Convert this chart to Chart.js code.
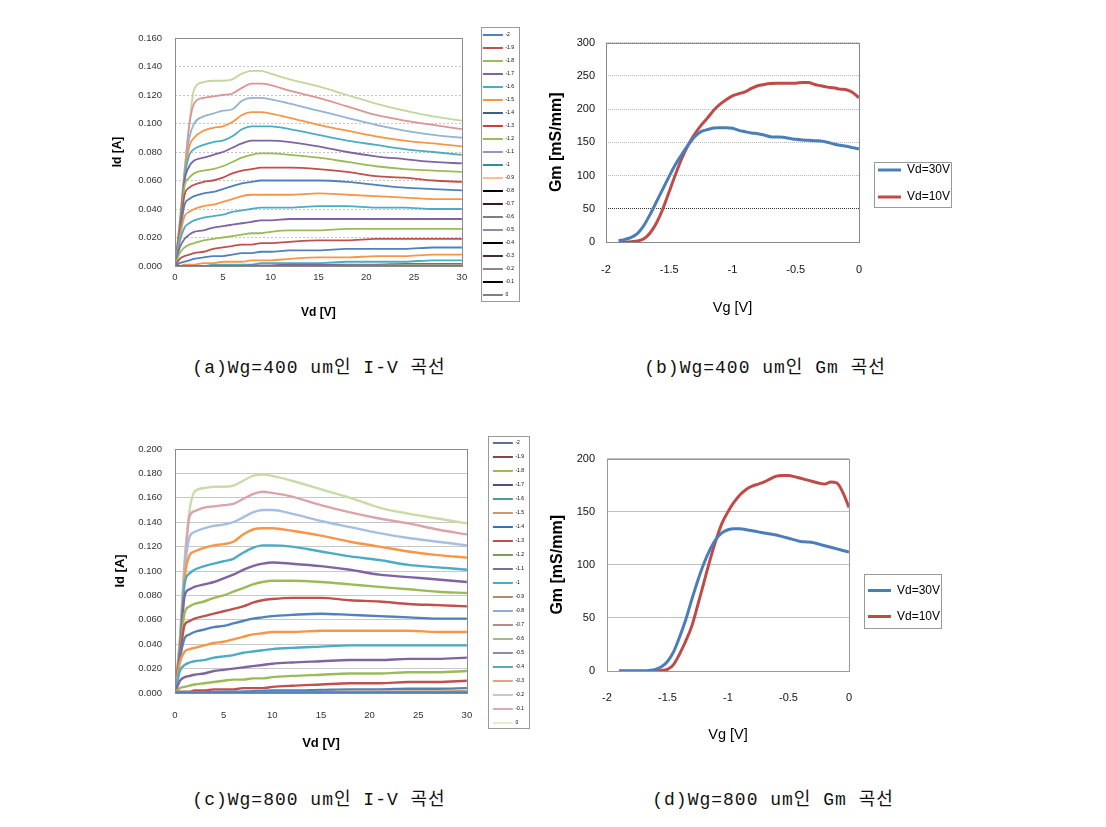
<!DOCTYPE html>
<html><head><meta charset="utf-8">
<script src="https://cdn.jsdelivr.net/npm/chart.js@4.4.1/dist/chart.umd.min.js"></script>
<style>
html,body{margin:0;padding:0;background:#fff;}
body{width:1106px;height:827px;position:relative;overflow:hidden;}
canvas{position:absolute;}
.cap{position:absolute;font-family:"Liberation Mono","Noto Sans CJK KR",monospace;font-size:18px;color:#111;white-space:nowrap;transform:translate(-50%,-50%);letter-spacing:1px;}
</style></head><body>
<canvas id="ca"></canvas><canvas id="cb"></canvas><canvas id="cc"></canvas><canvas id="cd"></canvas>
<div class="cap" style="left:319px;top:365px">(a)Wg=400 um인 I-V 곡선</div>
<div class="cap" style="left:765px;top:365px">(b)Wg=400 um인 Gm 곡선</div>
<div class="cap" style="left:319px;top:797px">(c)Wg=800 um인 I-V 곡선</div>
<div class="cap" style="left:773px;top:797px">(d)Wg=800 um인 Gm 곡선</div>
<script>
// ---------------- data ----------------
const vgLabels = ['-2','-1.9','-1.8','-1.7','-1.6','-1.5','-1.4','-1.3','-1.2','-1.1','-1','-0.9','-0.8','-0.7','-0.6','-0.5','-0.4','-0.3','-0.2','-0.1','0'];
const vd = [0, 0.5, 1, 1.5, 2, 3, 4, 5, 6, 7, 8, 9, 10, 12, 15, 18, 21, 24, 27, 30];

// (a) Wg=400um, Id [A] vs Vd for each Vg
const idA_n20 = [0,0,0,0,0,0,0,0,0,0,0,0,0,0,0,0,0,0,0,0];
const idA_n19 = [0,0,0,0,0,0,0,0,0,0,0,0,0,0,0,0,0,0,0,0];
const idA_n18 = [0,0,0,0,0,0,0,0,0,0,0,0,0,0,0,0.0003,0.0003,0.0005,0.0005,0.0005];
const idA_n17 = [0,0,0,0,0,0,0,0,0,0,0.0005,0.0005,0.0005,0.001,0.001,0.001,0.001,0.0015,0.0015,0.0015];
const idA_n16 = [0,0,0,0,0,0,0.001,0.001,0.001,0.001,0.001,0.002,0.002,0.002,0.002,0.003,0.003,0.003,0.004,0.004];
const idA_n15 = [0,0,0.001,0.001,0.001,0.002,0.002,0.003,0.003,0.003,0.004,0.004,0.004,0.005,0.006,0.006,0.007,0.007,0.008,0.008];
const idA_n14 = [0,0.002,0.003,0.004,0.005,0.006,0.007,0.007,0.008,0.009,0.009,0.010,0.010,0.011,0.011,0.012,0.012,0.012,0.013,0.013];
const idA_n13 = [0,0.005,0.007,0.008,0.009,0.010,0.012,0.013,0.014,0.015,0.015,0.016,0.016,0.017,0.018,0.018,0.019,0.019,0.019,0.019];
const idA_n12 = [0,0.009,0.013,0.015,0.016,0.018,0.019,0.020,0.021,0.022,0.023,0.023,0.024,0.025,0.025,0.026,0.026,0.026,0.026,0.026];
const idA_n11 = [0,0.013,0.019,0.022,0.024,0.025,0.027,0.028,0.029,0.030,0.031,0.032,0.032,0.033,0.033,0.033,0.033,0.033,0.033,0.033];
const idA_n10 = [0,0.017,0.027,0.030,0.032,0.034,0.035,0.036,0.038,0.039,0.040,0.041,0.041,0.041,0.042,0.042,0.041,0.041,0.040,0.040];
const idA_n09 = [0,0.020,0.035,0.038,0.040,0.042,0.043,0.045,0.047,0.049,0.050,0.050,0.050,0.050,0.051,0.050,0.049,0.048,0.047,0.047];
const idA_n08 = [0,0.022,0.043,0.047,0.049,0.051,0.052,0.054,0.056,0.058,0.059,0.060,0.060,0.060,0.060,0.059,0.057,0.055,0.054,0.053];
const idA_n07 = [0,0.024,0.050,0.055,0.057,0.059,0.060,0.062,0.065,0.067,0.068,0.069,0.069,0.069,0.068,0.066,0.063,0.062,0.060,0.059];
const idA_n06 = [0,0.025,0.056,0.062,0.065,0.067,0.068,0.070,0.073,0.076,0.078,0.079,0.079,0.078,0.076,0.073,0.070,0.068,0.067,0.066];
const idA_n05 = [0,0.026,0.060,0.070,0.074,0.076,0.078,0.080,0.083,0.086,0.088,0.088,0.088,0.087,0.084,0.080,0.077,0.075,0.073,0.072];
const idA_n04 = [0,0.027,0.062,0.078,0.082,0.085,0.087,0.088,0.091,0.096,0.098,0.098,0.098,0.096,0.092,0.088,0.085,0.082,0.080,0.078];
const idA_n03 = [0,0.028,0.063,0.084,0.090,0.095,0.097,0.098,0.101,0.106,0.108,0.108,0.107,0.104,0.099,0.095,0.091,0.088,0.086,0.084];
const idA_n02 = [0,0.029,0.064,0.090,0.100,0.105,0.107,0.109,0.110,0.116,0.118,0.118,0.117,0.114,0.109,0.104,0.099,0.095,0.092,0.090];
const idA_n01 = [0,0.030,0.066,0.099,0.114,0.118,0.119,0.120,0.121,0.125,0.128,0.128,0.127,0.123,0.118,0.112,0.106,0.102,0.099,0.096];
const idA_0   = [0,0.032,0.068,0.100,0.124,0.129,0.130,0.130,0.131,0.135,0.137,0.137,0.135,0.131,0.126,0.120,0.114,0.109,0.105,0.102];

// (c) Wg=800um, Id [A] vs Vd for each Vg
const idC_n20 = [0,0,0,0,0,0,0,0,0,0,0,0,0,0,0,0,0,0,0,0];
const idC_n19 = [0,0,0,0,0,0,0,0,0,0,0,0,0,0,0,0,0,0,0,0];
const idC_n18 = [0,0,0,0,0,0,0,0,0,0,0,0,0,0,0,0,0,0,0,0];
const idC_n17 = [0,0,0,0,0,0,0,0,0,0,0,0,0,0,0,0,0,0,0,0];
const idC_n16 = [0,0,0,0,0,0,0,0,0,0,0,0,0,0,0,0,0.0002,0.0003,0.0004,0.0005];
const idC_n15 = [0,0,0,0,0,0,0,0,0,0,0.0003,0.0004,0.0005,0.0006,0.0008,0.001,0.001,0.0012,0.0013,0.0015];
const idC_n14 = [0,0,0,0,0,0.0005,0.0008,0.001,0.001,0.0012,0.0015,0.0017,0.002,0.002,0.0025,0.003,0.003,0.0035,0.0035,0.004];
const idC_n13 = [0,0.001,0.001,0.001,0.002,0.002,0.003,0.003,0.003,0.004,0.004,0.004,0.005,0.006,0.007,0.008,0.008,0.009,0.009,0.010];
const idC_n12 = [0,0.004,0.005,0.006,0.007,0.008,0.009,0.010,0.011,0.011,0.012,0.012,0.013,0.014,0.015,0.016,0.016,0.017,0.017,0.018];
const idC_n11 = [0,0.010,0.013,0.014,0.015,0.016,0.018,0.019,0.020,0.021,0.022,0.023,0.024,0.025,0.026,0.027,0.027,0.028,0.028,0.029];
const idC_n10 = [0,0.018,0.023,0.025,0.026,0.027,0.029,0.030,0.031,0.033,0.034,0.035,0.036,0.037,0.038,0.039,0.039,0.039,0.039,0.039];
const idC_n09 = [0,0.025,0.034,0.036,0.037,0.039,0.041,0.042,0.044,0.046,0.048,0.049,0.050,0.050,0.051,0.051,0.051,0.051,0.050,0.050];
const idC_n08 = [0,0.028,0.045,0.048,0.050,0.052,0.054,0.055,0.057,0.059,0.061,0.062,0.063,0.064,0.065,0.064,0.063,0.062,0.061,0.061];
const idC_n07 = [0,0.030,0.056,0.059,0.061,0.063,0.065,0.067,0.069,0.071,0.074,0.076,0.077,0.078,0.078,0.076,0.075,0.073,0.072,0.071];
const idC_n06 = [0,0.032,0.066,0.071,0.073,0.075,0.078,0.080,0.083,0.086,0.089,0.091,0.092,0.092,0.091,0.089,0.087,0.085,0.083,0.082];
const idC_n05 = [0,0.034,0.080,0.085,0.087,0.089,0.091,0.094,0.097,0.101,0.104,0.106,0.107,0.106,0.104,0.101,0.097,0.095,0.093,0.091];
const idC_n04 = [0,0.036,0.090,0.098,0.101,0.104,0.106,0.108,0.110,0.115,0.119,0.121,0.121,0.120,0.116,0.112,0.109,0.105,0.103,0.101];
const idC_n03 = [0,0.038,0.095,0.113,0.116,0.119,0.121,0.122,0.124,0.130,0.134,0.135,0.135,0.133,0.129,0.124,0.120,0.116,0.113,0.111];
const idC_n02 = [0,0.040,0.100,0.128,0.132,0.135,0.137,0.138,0.140,0.144,0.148,0.150,0.150,0.147,0.141,0.136,0.131,0.127,0.124,0.121];
const idC_n01 = [0,0.042,0.105,0.145,0.149,0.152,0.153,0.154,0.155,0.159,0.163,0.165,0.164,0.161,0.154,0.148,0.143,0.139,0.134,0.130];
const idC_0   = [0,0.045,0.110,0.150,0.165,0.168,0.169,0.169,0.170,0.174,0.178,0.179,0.178,0.174,0.167,0.160,0.152,0.147,0.143,0.139];

// (b) and (d) Gm [mS/mm] vs Vg
const vg = [-1.9,-1.85,-1.8,-1.75,-1.7,-1.65,-1.6,-1.55,-1.5,-1.45,-1.4,-1.35,-1.3,-1.25,-1.2,-1.15,-1.1,-1.05,-1.0,-0.95,-0.9,-0.85,-0.8,-0.75,-0.7,-0.65,-0.6,-0.55,-0.5,-0.45,-0.4,-0.35,-0.3,-0.25,-0.2,-0.15,-0.1,-0.05,0];
const gmB_vd30 = [2,4,7,13,25,42,61,80,99,117,132,146,158,166,169,171.5,172,172,171,168,166,164,163,161,158.5,158,157.5,156,154.5,153.5,153,152.5,152,150,147.5,145.5,144,142,140];
const gmB_vd10 = [0,0,0.5,1.5,5,14,29,50,76,102,126,146,162,175,186,198,207,214,220,223,226,231,235,237,238.5,239,239,239,239,240,240,237,235,233,232,230,229,225,217];
const gmD_vd30 = [0,0,0,0,0,0.5,1.5,4,9,18,32,48,67,85,101,114,124,130,133,134,134,133,132,131,130,129,128,126.5,125,123.5,122,121.5,121,119.5,118,116.5,115,113.5,112];
const gmD_vd10 = [0,0,0,0,0,0,0,0.5,1.5,6,16,28,42,62,83,104,123,139,150,159,166,171,174,176,178,181,183.5,184,184,183,181.5,180,178.5,177,176,178,177,168,154];
const gmLabels = ['Vd=30V','Vd=10V'];

// tick labels
const idTicksA = ['0.000','0.020','0.040','0.060','0.080','0.100','0.120','0.140','0.160'];
const idTicksC = ['0.000','0.020','0.040','0.060','0.080','0.100','0.120','0.140','0.160','0.180','0.200'];
const vdTicks = ['0','5','10','15','20','25','30'];
const vgTicks = ['-2','-1.5','-1','-0.5','0'];
const gmTicksB = ['0','50','100','150','200','250','300'];
const gmTicksD = ['0','50','100','150','200'];

// ---------------- styles ----------------
const seriesA = [idA_n20,idA_n19,idA_n18,idA_n17,idA_n16,idA_n15,idA_n14,idA_n13,idA_n12,idA_n11,idA_n10,idA_n09,idA_n08,idA_n07,idA_n06,idA_n05,idA_n04,idA_n03,idA_n02,idA_n01,idA_0];
const seriesC = [idC_n20,idC_n19,idC_n18,idC_n17,idC_n16,idC_n15,idC_n14,idC_n13,idC_n12,idC_n11,idC_n10,idC_n09,idC_n08,idC_n07,idC_n06,idC_n05,idC_n04,idC_n03,idC_n02,idC_n01,idC_0];
const lineColA = ['#4F81BD','#C0504D','#9BBB59','#8064A2','#4BACC6','#F79646','#4F81BD','#C0504D','#9BBB59','#8064A2','#4BACC6','#F79646','#4F81BD','#C0504D','#9BBB59','#8064A2','#4BACC6','#F79646','#95B3D7','#D99694','#C3D69B'];
const legColA = ['#4F81BD','#C0504D','#9BBB59','#8064A2','#4BACC6','#F79646','#3D5F8C','#D13C3C','#9BBB59','#A292C4','#2E8C9E','#FAC08F','#000000','#3A1A1A','#7F7F7F','#8E8AA8','#000000','#4A2E2E','#8A8A8A','#000000','#808080'];
const lineColC = ['#4F81BD','#C0504D','#9BBB59','#8064A2','#4BACC6','#D9A066','#4F81BD','#C0504D','#9BBB59','#8064A2','#4BACC6','#F79646','#4F81BD','#C0504D','#9BBB59','#8064A2','#4BACC6','#F79646','#A6BFE0','#DDA3AB','#C9DCA5'];
const legColC = ['#5B739C','#874646','#9BBB59','#574B86','#4F9A9A','#C99A70','#3F70B5','#C0504D','#7F9A55','#75739B','#4BACC6','#B38A6B','#8EAAD0','#B48C8C','#A8B88C','#8C8CA3','#5FA8B8','#E8A27C','#C2C8D4','#D9A8B2','#E4EDCD'];
const gmColors = ['#4A7EBB','#BE4B48'];

const FONT = "'Liberation Sans', Arial, sans-serif";

const framePlugin = {
  id: 'frame',
  afterDraw(chart, args, o) {
    const {ctx, chartArea: a} = chart;
    ctx.save();
    ctx.lineWidth = 1;
    ctx.strokeStyle = o.color;
    ctx.strokeRect(Math.round(a.left) + 0.5, Math.round(a.top) + 0.5, Math.round(a.right) - Math.round(a.left), Math.round(a.bottom) - Math.round(a.top));
    const hb = chart.legend && chart.legend.legendHitBoxes;
    if (hb && hb.length) {
      const l = Math.min(...hb.map(h => h.left)) - o.lm;
      const r = Math.max(...hb.map(h => h.left + h.width)) + o.rm;
      const t = hb[0].top - o.tm;
      const last = hb[hb.length - 1];
      const b = last.top + last.height + o.bm;
      ctx.strokeStyle = o.legendColor;
      ctx.strokeRect(Math.round(l) + 0.5, Math.round(t) + 0.5, Math.round(r - l), Math.round(b - t));
    }
    ctx.restore();
  }
};

function render(s) {
  const cv = document.getElementById(s.id);
  const mc = document.createElement('canvas').getContext('2d');
  mc.font = `${s.leg.size}px ${FONT}`;
  const tw = Math.max(...s.labels.map(t => mc.measureText(t).width));
  const legendW = s.leg.pad + s.leg.boxW + s.leg.size / 2 + tw + 10;
  const W = Math.round(s.g.legendLeft + legendW - s.g.left);
  const H = s.g.height;
  cv.width = W; cv.height = H;
  cv.style.cssText = `left:${s.g.left}px;top:${s.g.top}px;width:${W}px;height:${H}px`;
  const datasets = s.series.map((arr, i) => ({
    label: s.labels[i],
    data: arr.map((y, k) => ({x: s.xs[k], y})),
    borderColor: s.lineCols[i],
    backgroundColor: s.lineCols[i],
    borderWidth: s.lineW,
    pointRadius: 0,
    cubicInterpolationMode: 'monotone',
    fill: false
  }));
  return new Chart(cv, {
    type: 'line',
    data: {datasets},
    options: {
      responsive: false, maintainAspectRatio: false, animation: false,
      layout: {padding: 0},
      scales: {
        x: {
          type: 'linear', min: s.x.min, max: s.x.max,
          ticks: {stepSize: s.x.step, padding: s.x.pad, maxRotation: 0, autoSkip: false, color: s.tickColor,
                  font: {family: FONT, size: s.tickSize}, callback: (v, i) => s.x.labels[i]},
          grid: {display: false, drawTicks: false},
          border: {display: false},
          title: {display: true, text: s.x.title, color: '#000', font: {family: FONT, size: s.x.tSize, weight: s.x.tWeight},
                  padding: {top: 0, bottom: s.x.tPad}},
          afterFit: sc => { sc.height = s.g.xH; }
        },
        y: {
          type: 'linear', min: s.y.min, max: s.y.max,
          ticks: {stepSize: s.y.step, padding: s.y.pad, color: s.tickColor,
                  font: {family: FONT, size: s.tickSize}, callback: (v, i) => s.y.labels[i]},
          grid: {display: true, drawTicks: false, color: s.y.gridColor, lineWidth: 1},
          border: {display: false, dash: s.y.dash},
          title: {display: true, text: s.y.title, color: '#000', font: {family: FONT, size: s.y.tSize, weight: 'bold'},
                  padding: {top: s.y.tPad, bottom: 0}},
          afterFit: sc => { sc.width = s.g.yW; }
        },
        sp: {
          type: 'linear', position: 'right', display: true,
          ticks: {display: false}, grid: {display: false, drawTicks: false}, border: {display: false},
          afterFit: sc => { sc.width = s.g.spacer; }
        }
      },
      plugins: {
        title: {display: true, text: '', padding: 0, font: {size: s.g.topGap, lineHeight: 1}},
        tooltip: {enabled: false},
        legend: {
          display: true, position: 'right', align: 'center', maxWidth: 400,
          labels: {
            boxWidth: s.leg.boxW, boxHeight: s.leg.boxH, padding: s.leg.pad, color: s.leg.color,
            font: {family: FONT, size: s.leg.size},
            generateLabels: ch => ch.data.datasets.map((d, i) => ({
              text: d.label, fillStyle: s.legCols[i], strokeStyle: s.legCols[i], lineWidth: 0, hidden: false, datasetIndex: i
            }))
          }
        },
        frame: s.frame
      }
    },
    plugins: [framePlugin]
  });
}

// (a)
render({
  id: 'ca', series: seriesA, xs: vd, labels: vgLabels, lineCols: lineColA, legCols: legColA, lineW: 1.8,
  tickColor: '#333', tickSize: 9.5,
  g: {left: 100, top: 8, height: 314, topGap: 30, xH: 56, yW: 75, spacer: 13, legendLeft: 475},
  x: {min: 0, max: 30, step: 5, pad: 5.3, labels: vdTicks, title: 'Vd [V]', tSize: 12, tWeight: 'bold', tPad: 1.8},
  y: {min: 0, max: 0.16, step: 0.02, pad: 13, labels: idTicksA, title: 'Id [A]', tSize: 12, tPad: 10.8,
      gridColor: '#c4c4c4', dash: [2, 2]},
  leg: {size: 5, pad: 8, boxW: 20, boxH: 2, color: '#555'},
  frame: {color: '#8a8a8a', legendColor: '#9a9a9a', lm: 2, rm: 5, tm: 5.5, bm: 3}
});

// (b)
render({
  id: 'cb', series: [gmB_vd30, gmB_vd10], xs: vg, labels: gmLabels, lineCols: gmColors, legCols: gmColors, lineW: 3,
  tickColor: '#111', tickSize: 11,
  g: {left: 540, top: 25, height: 317, topGap: 17, xH: 100, yW: 66, spacer: 4, legendLeft: 863},
  x: {min: -2, max: 0, step: 0.5, pad: 21.4, labels: vgTicks, title: 'Vg [V]', tSize: 14.5, tWeight: 'normal', tPad: 25.3},
  y: {min: 0, max: 300, step: 50, pad: 11, labels: gmTicksB, title: 'Gm [mS/mm]', tSize: 16, tPad: 7.4,
      gridColor: c => (c.tick && c.tick.value === 50 ? '#333333' : '#b8b8b8'), dash: [1, 1]},
  leg: {size: 12, pad: 15, boxW: 23, boxH: 3, color: '#222'},
  frame: {color: '#888888', legendColor: '#9a9a9a', lm: 4, rm: 1, tm: 2, bm: 4}
});

// (c)
render({
  id: 'cc', series: seriesC, xs: vd, labels: vgLabels, lineCols: lineColC, legCols: legColC, lineW: 2.4,
  tickColor: '#333', tickSize: 9.5,
  g: {left: 100, top: 414, height: 338, topGap: 35, xH: 59, yW: 75, spacer: 17, legendLeft: 484},
  x: {min: 0, max: 30, step: 5, pad: 16.3, labels: vdTicks, title: 'Vd [V]', tSize: 13, tWeight: 'bold', tPad: 1.2},
  y: {min: 0, max: 0.2, step: 0.02, pad: 13, labels: idTicksC, title: 'Id [A]', tSize: 13, tPad: 12.2,
      gridColor: '#c8c8c8', dash: []},
  leg: {size: 5, pad: 9, boxW: 20, boxH: 2, color: '#777'},
  frame: {color: '#8a8a8a', legendColor: '#9a9a9a', lm: 5, rm: 5, tm: 4.5, bm: 2}
});

// (d)
render({
  id: 'cd', series: [gmD_vd30, gmD_vd10], xs: vg, labels: gmLabels, lineCols: gmColors, legCols: gmColors, lineW: 3,
  tickColor: '#111', tickSize: 11,
  g: {left: 540, top: 440, height: 327, topGap: 14, xH: 96, yW: 67, spacer: 5, legendLeft: 854},
  x: {min: -2, max: 0, step: 0.5, pad: 20.4, labels: vgTicks, title: 'Vg [V]', tSize: 14.5, tWeight: 'normal', tPad: 23.3},
  y: {min: 0, max: 200, step: 50, pad: 12, labels: gmTicksD, title: 'Gm [mS/mm]', tSize: 16, tPad: 8.4,
      gridColor: '#c0c0c0', dash: []},
  leg: {size: 12, pad: 14, boxW: 23, boxH: 3, color: '#222'},
  frame: {color: '#999999', legendColor: '#9a9a9a', lm: 4, rm: 1, tm: 10.7, bm: 5.3}
});
</script>
</body></html>
